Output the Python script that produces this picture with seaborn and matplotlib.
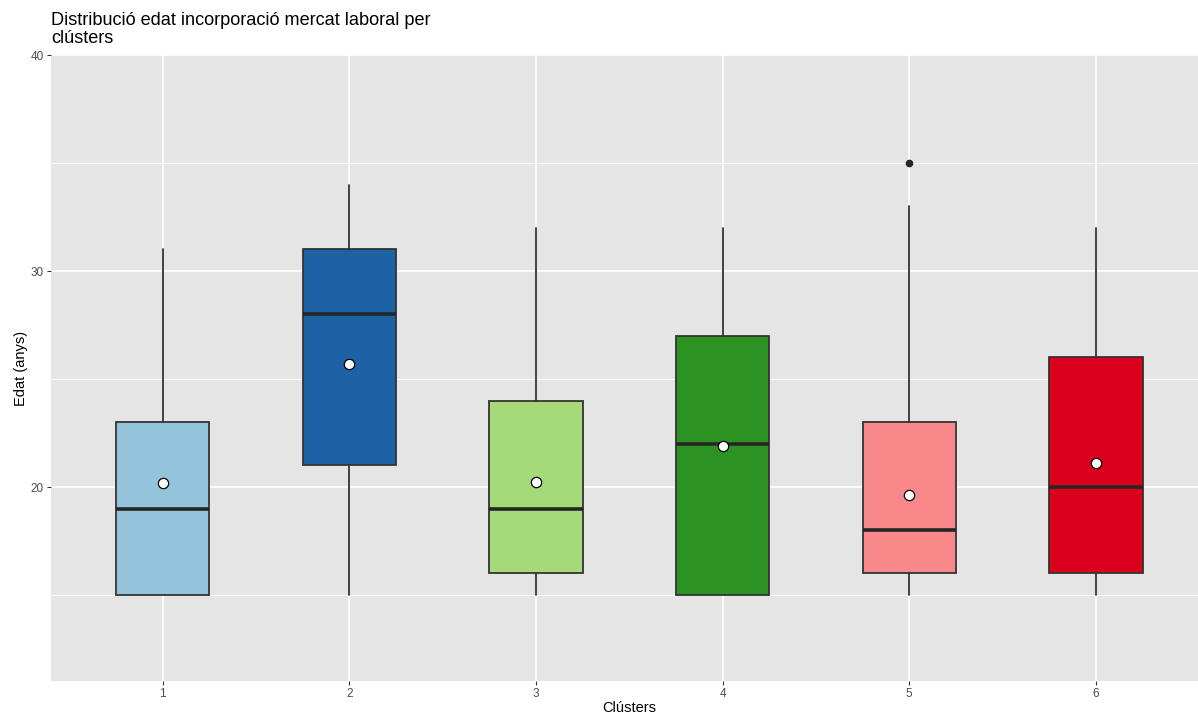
import matplotlib
matplotlib.use("Agg")
import matplotlib.pyplot as plt
import seaborn as sns
import pandas as pd
import numpy as np

clusters = ["1", "2", "3", "4", "5", "6"]
whisker_low = [15, 15, 15, 15, 15, 15]
q1 = [15, 21, 16, 15, 16, 16]
medians = [19, 28, 19, 22, 18, 20]
q3 = [23, 31, 24, 27, 23, 26]
whisker_high = [31, 34, 32, 32, 33, 32]
means = [20.2, 25.7, 20.25, 21.9, 19.65, 21.1]
outliers = [[], [], [], [], [35], []]
colors = ["#94C3DC", "#1D62A5", "#A6DA79", "#2C9322", "#F8888A", "#DB001C"]

title = "Distribució edat incorporació mercat laboral per\nclústers"
xlabel = "Clústers"
ylabel = "Edat (anys)"

sns.set_theme(style="darkgrid", rc={
    "axes.facecolor": "#E5E5E5",
    "grid.color": "white",
    "figure.facecolor": "white",
})
plt.rcParams["font.family"] = ["Liberation Sans", "DejaVu Sans"]

W, H = 1198, 715
fig = plt.figure(figsize=(W / 100, H / 100), dpi=100)
ax = fig.add_axes([50.5 / W, 1 - 681 / H, (1208 - 50.5) / W, (681 - 55) / H])

stats = []
for i in range(len(clusters)):
    stats.append(dict(med=medians[i], q1=q1[i], q3=q3[i],
                      whislo=whisker_low[i], whishi=whisker_high[i],
                      fliers=outliers[i], label=clusters[i]))

positions = np.arange(len(clusters))
bp = ax.bxp(stats, positions=positions, widths=0.5, patch_artist=True,
            showcaps=False,
            boxprops=dict(edgecolor="#333333", linewidth=1.3),
            medianprops=dict(color="#262626", linewidth=2.6),
            whiskerprops=dict(color="#333333", linewidth=1.3),
            flierprops=dict(marker="o", markerfacecolor="#262626",
                            markeredgecolor="#262626", markersize=4.5))
for patch, c in zip(bp["boxes"], colors):
    patch.set_facecolor(c)
    patch.set_zorder(2)
for k in ["medians", "whiskers", "fliers"]:
    for ln in bp[k]:
        ln.set_zorder(3)

df_means = pd.DataFrame({"x": positions, "mean": means})
sns.scatterplot(data=df_means, x="x", y="mean", ax=ax, s=55, color="white",
                edgecolor="black", linewidth=0.9, zorder=5, legend=False)

ax.set_xlim(-0.6, 5.6)
ax.set_ylim(11.02, 40)
ax.set_xticks(positions)
ax.set_xticklabels(clusters)
ax.set_yticks([20, 30, 40])
ax.set_yticks([15, 25, 35], minor=True)
ax.grid(True, which="major", color="white", linewidth=1.2)
ax.grid(True, which="minor", color="white", linewidth=0.6)
ax.set_axisbelow(True)
for s in ax.spines.values():
    s.set_visible(False)
ax.tick_params(axis="both", which="major", length=3, width=0.8, color="#333333",
               labelsize=8.5, labelcolor="#4D4D4D", pad=2, bottom=True, left=True)
ax.tick_params(axis="y", which="minor", length=0)
ax.set_xlabel(xlabel, fontsize=10.5, color="black", labelpad=1)
ax.set_ylabel(ylabel, fontsize=10.5, color="black", labelpad=2)

fig.text(51 / W, 1 - 12 / H, title, ha="left", va="top", fontsize=13.1,
         color="black", linespacing=1.1)

fig.savefig("out.png", dpi=100)
